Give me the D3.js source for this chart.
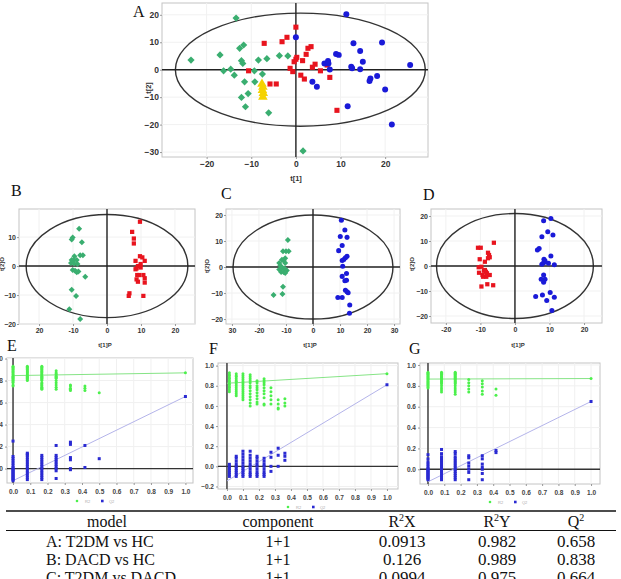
<!DOCTYPE html>
<html><head><meta charset="utf-8">
<script src="https://cdn.jsdelivr.net/npm/d3@7"></script>
<style>body{margin:0;background:#fff}svg{display:block}</style>
</head><body><script>
// ---------- DATA ----------
// Panel A scores (t[1], t[2])
const A_HC = [[-13.4,18.8],[-23.5,3.5],[-17.0,5.4],[-16.2,-0.4],[-14.6,0.2],[-13.8,-2.0],[-12.6,7.8],[-11.7,9.0],[-12.2,3.3],[-11.9,2.3],[-11.5,-4.4],[-10.7,-8.7],[-12.2,-10.1],[-11.3,-13.5],[-9.3,-0.4],[-9.2,-4.4],[-8.4,3.5],[-7.5,-1.6],[-6.5,4.0],[-6.1,-15.7],[-3.7,5.1],[-1.8,5.0],[1.6,-29.6]];
const A_DACD = [[0,15.5],[-2.0,11.8],[-3.1,10.2],[-7.1,9.6],[-10.6,-0.4],[-5.8,-5.2],[-4.4,-5.2],[-1.3,0.5],[-0.7,-0.7],[-0.4,2.9],[0,3.8],[0.2,4.5],[1.5,3.3],[1.1,-2.0],[1.9,-3.4],[2.3,5.6],[2.7,7.8],[3.4,8.4],[3.7,0.9],[4.3,2.0],[5.5,-0.4],[7.0,1.7],[7.6,-2.8],[9.2,-14.8]];
const A_T2DM = [[0,11.8],[3.7,-4.4],[4.7,-6.2],[6.4,2.3],[7.2,3.2],[7.3,2.3],[7.6,0.1],[9.0,5.7],[9.6,5.4],[11.3,20.2],[11.6,-13.3],[12.4,1.1],[12.6,0.5],[12.9,9.6],[14.4,6.8],[14.4,0.2],[15.0,2.9],[16.7,-3.2],[16.5,-4.1],[18.2,-2.3],[19.3,9.9],[20.0,-7.2],[21.5,-20.0],[25.6,1.7]];
const A_QC = [[-7.6,-5.2],[-7.4,-6.3],[-7.5,-7.5],[-7.3,-8.6],[-7.4,-9.9]];
// Panel B scores (t[1]P, t[2]O)
const B_HC = [[-8.2,12.9],[-10.1,9.9],[-10.4,9.2],[-7.4,8.2],[-9.6,3.4],[-7.9,3.7],[-7.1,3.7],[-10.4,2.1],[-9.7,2.1],[-8.9,2.1],[-10.6,1.1],[-9.7,0.9],[-8.7,0.7],[-10.1,-1.4],[-9.4,-1.6],[-8.9,-2.1],[-8.4,-1.9],[-6.4,-3.7],[-10.4,-8.2],[-9.1,-10.3],[-11.1,-14.9],[-7.9,-18.3]];
const B_DACD = [[9.7,15.3],[7.4,11.8],[7.9,9.5],[7.9,7.8],[9.7,3.4],[10.4,3.0],[8.4,1.8],[11.1,1.8],[9.9,0.7],[9.1,0],[8.7,-0.8],[8.4,-1.1],[9.9,-0.5],[8.9,-3.1],[9.4,-3.1],[10.7,-3.1],[11.1,-4.2],[8.7,-4.6],[9.1,-5.4],[11.1,-5.7],[6.6,-9.4],[6.4,-10.3],[10.7,-10.3]];
// Panel C scores
const C_HC = [[-9.3,10.4],[-11.1,6.1],[-10.0,6.1],[-9.0,6.1],[-10.3,3.4],[-10.9,2.5],[-11.5,2.8],[-10.3,1.5],[-12.5,1.5],[-12.1,0.6],[-11.3,-0.3],[-10.5,-0.6],[-12.5,-1.0],[-9.7,-1.3],[-11.8,-1.9],[-10.9,-1.9],[-10.3,-2.3],[-11.1,-7.6],[-14.6,-10.8],[-11.3,-10.4]];
const C_T2DM = [[10.5,18.0],[11.8,14.2],[10.1,11.7],[12.6,11.4],[10.8,8.3],[9.5,6.3],[12.6,4.1],[12.0,3.6],[11.4,2.9],[10.8,2.5],[11.0,0.3],[12.4,-2.5],[10.8,-3.6],[12.4,-5.1],[11.8,-5.3],[12.0,-8.9],[12.6,-9.5],[13.0,-9.9],[9.2,-11.7],[10.8,-11.7],[13.6,-14.6],[13.5,-17.8]];
// Panel D scores
const D_DACD = [[-10.7,7.3],[-9.9,7.3],[-6.1,9.3],[-7.8,5.3],[-7.5,4.4],[-7.3,3.5],[-7.8,3.1],[-10.2,2.7],[-8.7,1.7],[-10.5,-0.5],[-9.7,-0.3],[-9.0,-1.9],[-8.4,-2.3],[-8.1,-2.9],[-9.4,-3.6],[-7.3,-3.6],[-9.2,-4.3],[-8.3,-4.3],[-8.7,-1.6],[-9.7,-8.2],[-8.0,-7.3],[-6.3,-7.7],[-10.4,-2.7]];
const D_T2DM = [[8.3,18.1],[10.4,19.0],[9.5,13.7],[11.0,12.4],[7.8,11.7],[6.5,6.4],[7.0,7.0],[10.4,4.0],[8.4,2.7],[8.7,2.1],[8.3,1.3],[7.8,0.7],[9.7,1.1],[11.4,0.5],[8.3,-3.6],[8.7,-5.3],[7.6,-5.3],[8.3,-6.5],[6.0,-12.2],[7.96,-11.6],[10.2,-10.6],[11.4,-12.5],[9.2,-13.8],[10.7,-17.8]];
// Hotelling ellipses [centre x, radius x, radius y]
const A_ell = [1.0, 28.0, 20.6], B_ell = [0, 23.8, 17.8], C_ell = [0, 29.6, 20.0], D_ell = [0, 22.7, 21.0];
// tick labels
const A_xticks = [-20,-10,0,10,20], A_yticks = [-30,-20,-10,0,10,20];
const B_xticks = [-20,-10,0,10,20], B_xlabels = ["20","-10","0","10","20"], B_yticks = [-20,-10,0,10];
const C_xticks = [-30,-20,-10,0,10,20,30], C_xlabels = ["30","-20","-10","0","10","20","30"], C_yticks = [-20,-10,0,10,20];
const D_xticks = [-20,-10,0,10,20], D_xlabels = ["-20","-10","0","10","20"], D_yticks = [-20,-10,0,10,20];

// Permutation tests (x = correlation, columns of R2 and Q2)
const E_x = [0, 0.083, 0.167, 0.25, 0.333, 0.417, 0.5, 1.0];
const E_R2 = [
 [0.93,0.92,0.91,0.9,0.89,0.88,0.87,0.86,0.85,0.84,0.83,0.82,0.81,0.8,0.79,0.78,0.76,0.75],
 [0.93,0.92,0.91,0.9,0.89,0.88,0.87,0.86,0.85,0.84,0.83,0.82,0.81,0.8],
 [0.93,0.92,0.91,0.9,0.89,0.88,0.87,0.86,0.85,0.84,0.83,0.82,0.81,0.8,0.78,0.77,0.76,0.75,0.74,0.73,0.72],
 [0.89,0.87,0.86,0.85,0.84,0.83,0.82,0.8,0.78,0.76,0.74,0.72],
 [0.76,0.75,0.73,0.72,0.71],
 [0.75,0.73,0.71],
 [0.69],
 [0.87]];
const E_Q2 = [
 [0.25,0.11,0.09,0.07,0.05,0.03,0.01,0,-0.01,-0.02,-0.03,-0.04,-0.05,-0.06,-0.07,-0.08,-0.09,-0.1,-0.11],
 [0.14,0.13,0.12,0.1,0.08,0.06,0.04,0.02,0,-0.02,-0.04,-0.06,-0.08,-0.1],
 [0.12,0.1,0.08,0.06,0.04,0.02,0,-0.02,-0.04,-0.06,-0.08,-0.1],
 [0.21,0.12,0.1,0.08,0.06,0.04,0.02,0,-0.02,-0.09],
 [0.24,0.22,0.1,0.08,0,-0.01],
 [0.21,0.01],
 [0.09],
 [0.655]];
const E_R2line = [0.845, 0.87], E_Q2line = [-0.11, 0.655];

const F_x = [0.015, 0.058, 0.1, 0.145, 0.188, 0.232, 0.275, 0.32, 0.362, 1.0];
const F_R2 = [
 [0.93,0.91,0.9,0.88,0.87,0.85,0.84,0.82,0.81,0.79,0.78,0.76,0.74],
 [0.92,0.9,0.89,0.87,0.85,0.84,0.82,0.8,0.78,0.76,0.74,0.72,0.7],
 [0.92,0.9,0.88,0.86,0.84,0.82,0.8,0.78,0.76,0.74,0.72,0.7,0.68,0.66],
 [0.91,0.89,0.87,0.85,0.83,0.8,0.78,0.75,0.72,0.69,0.66,0.63,0.6],
 [0.85,0.83,0.8,0.78,0.76,0.73,0.7,0.67,0.64,0.62],
 [0.87,0.85,0.83,0.81,0.78,0.75,0.72,0.68,0.62,0.61],
 [0.78,0.74,0.7,0.66,0.62],
 [0.66,0.62,0.58,0.57],
 [0.67,0.63,0.6],
 [0.92]];
const F_Q2 = [
 [0.02,0,-0.02,-0.04,-0.06,-0.08,-0.1],
 [0.1,0.08,0.05,0.02,0,-0.02,-0.04,-0.06,-0.08,-0.1],
 [0.15,0.12,0.09,0.06,0.03,0,-0.02,-0.04,-0.06,-0.08,-0.1],
 [0.15,0.11,0.08,0.05,0.02,0,-0.03,-0.06,-0.08,-0.1],
 [0.1,0.08,0.05,0.02,0,-0.03,-0.06,-0.08,-0.1],
 [0.08,0.05,0.02,0,-0.03,-0.06,-0.08,-0.1],
 [0.14,0.09,0,-0.05],
 [0.18,0.11,0],
 [0.13,0.1,0.06],
 [0.81]];
const F_R2line = [0.825, 0.92], F_Q2line = [-0.145, 0.81];

const G_x = [0, 0.083, 0.167, 0.25, 0.333, 0.417, 1.0];
const G_R2 = [
 [0.93,0.92,0.91,0.9,0.89,0.88,0.87,0.86,0.85,0.84,0.83,0.82,0.81,0.8,0.79,0.78],
 [0.93,0.92,0.91,0.9,0.89,0.88,0.87,0.86,0.85,0.84,0.83,0.82,0.8,0.78,0.76,0.74],
 [0.93,0.92,0.91,0.9,0.89,0.88,0.87,0.86,0.85,0.84,0.83,0.82,0.8,0.78,0.76,0.74,0.72],
 [0.86,0.83,0.8,0.77,0.74],
 [0.85,0.82,0.79,0.75,0.72],
 [0.77,0.71],
 [0.87]];
const G_Q2 = [
 [0.14,0.1,0.07,0.05,0.03,0.01,0,-0.01,-0.02,-0.03,-0.04,-0.05,-0.06,-0.07,-0.08,-0.09,-0.1],
 [0.19,0.15,0.12,0.1,0.08,0.06,0.04,0.02,0,-0.02,-0.04,-0.06,-0.08,-0.1],
 [0.17,0.15,0.12,0.1,0.08,0.06,0.04,0.02,0,-0.02,-0.04,-0.06,-0.08,-0.1],
 [0.13,0.11,0.06,0.03,0,-0.03,-0.1],
 [0.13,0.1,0.05,0.02,0,-0.04,-0.1],
 [0.18,0.16],
 [0.65]];
const G_R2line = [0.865, 0.87], G_Q2line = [-0.12, 0.65];
const perm_xticks = [0,0.1,0.2,0.3,0.4,0.5,0.6,0.7,0.8,0.9,1.0];
const perm_yticks = [-0.2,0,0.2,0.4,0.6,0.8,1.0];

// Table
const tbl_header = ["model","component","R2X","R2Y","Q2"];
const tbl_model = ["A: T2DM vs HC","B: DACD vs HC","C: T2DM vs DACD"];
const tbl_component = ["1+1","1+1","1+1"];
const tbl_R2X = ["0.0913","0.126","0.0994"];
const tbl_R2Y = ["0.982","0.989","0.975"];
const tbl_Q2 = ["0.658","0.838","0.664"];

// ---------- DRAW ----------
const W = 621, H = 579;
const svg = d3.select("body").append("svg").attr("width", W).attr("height", H)
  .style("font-family", "'Liberation Sans', Arial, sans-serif");

const COL = {green:"#3aae70", red:"#e8141e", blue:"#1a1ad8", yellow:"#f5d200",
             pgreen:"#4cf04c", pblue:"#2a2ad2", lgreen:"#86e486", lblue:"#b4b4ea"};

function panelLetter(t, x, y) {
  svg.append("text").attr("x", x).attr("y", y).text(t)
    .style("font-family", "'Liberation Serif','Times New Roman',serif")
    .style("font-size", "16px").attr("fill", "#111");
}

function scorePlot(c) {
  const x = d3.scaleLinear().domain(c.xd).range([c.x0, c.x1]);
  const y = d3.scaleLinear().domain(c.yd).range([c.y1, c.y0]);
  const g = svg.append("g");
  g.append("rect").attr("x", c.x0).attr("y", c.y0).attr("width", c.x1 - c.x0).attr("height", c.y1 - c.y0)
    .attr("fill", "#fff").attr("stroke", "#c4c4c4").attr("stroke-width", 1);
  c.xt.forEach(v => g.append("line").attr("x1", x(v)).attr("x2", x(v)).attr("y1", c.y0).attr("y2", c.y1).attr("stroke", "#f1f1f1"));
  c.yt.forEach(v => g.append("line").attr("y1", y(v)).attr("y2", y(v)).attr("x1", c.x0).attr("x2", c.x1).attr("stroke", "#f1f1f1"));
  const ax = g.append("g").attr("transform", `translate(0,${c.y1})`)
    .call(d3.axisBottom(x).tickValues(c.xt).tickSize(2).tickPadding(2)
      .tickFormat((d, i) => c.xl ? c.xl[i] : d3.format("d")(d)));
  const ay = g.append("g").attr("transform", `translate(${c.x0},0)`)
    .call(d3.axisLeft(y).tickValues(c.yt).tickSize(2).tickPadding(1).tickFormat(d3.format("d")));
  [ax, ay].forEach(a => {
    a.select(".domain").remove();
    a.selectAll("line").attr("stroke", "#999");
    a.selectAll("text").style("font-size", c.fs + "px").style("font-weight", "bold").attr("fill", "#333")
      .style("font-family", "'Liberation Sans', Arial, sans-serif");
  });
  g.append("ellipse").attr("cx", x(c.ell[0])).attr("cy", y(0))
    .attr("rx", x(c.ell[0] + c.ell[1]) - x(c.ell[0])).attr("ry", y(0) - y(c.ell[2]))
    .attr("fill", "none").attr("stroke", "#333").attr("stroke-width", 1.4);
  g.append("line").attr("x1", x(0)).attr("x2", x(0)).attr("y1", c.y0).attr("y2", c.y1).attr("stroke", "#222").attr("stroke-width", 1.4);
  g.append("line").attr("x1", c.x0).attr("x2", c.x1).attr("y1", y(0)).attr("y2", y(0)).attr("stroke", "#222").attr("stroke-width", 1.4);
  c.groups.forEach(gr => {
    const sym = d3.symbol().type(gr.shape === "circle" ? d3.symbolCircle : gr.shape === "tri" ? d3.symbolTriangle : d3.symbolSquare).size(gr.size);
    g.selectAll(null).data(gr.data).join("path")
      .attr("d", sym)
      .attr("transform", d => `translate(${x(d[0])},${y(d[1])})` + (gr.shape === "diamond" ? " rotate(45)" : ""))
      .attr("fill", gr.color);
  });
  g.append("text").attr("x", c.xtitle[0]).attr("y", c.xtitle[1]).attr("text-anchor", "middle")
    .style("font-size", c.fs - 1 + "px").style("font-weight", "bold").attr("fill", "#333").text(c.xlab);
  g.append("text").attr("transform", `translate(${c.ytitle[0]},${c.ytitle[1]}) rotate(-90)`).attr("text-anchor", "middle")
    .style("font-size", c.fs - 1 + "px").style("font-weight", "bold").attr("fill", "#333").text(c.ylab);
}

scorePlot({x0:162, x1:428, y0:3, y1:157, xd:[-30,29.6], yd:[-31.8,24.3], xt:A_xticks, yt:A_yticks, ell:A_ell, fs:8.5,
  xlab:"t[1]", ylab:"t[2]", xtitle:[296,181], ytitle:[151,88],
  groups:[{data:A_HC, shape:"diamond", size:26, color:COL.green},
          {data:A_DACD, shape:"square", size:26, color:COL.red},
          {data:A_T2DM, shape:"circle", size:28, color:COL.blue},
          {data:A_QC, shape:"tri", size:40, color:COL.yellow}]});
scorePlot({x0:19, x1:195, y0:209, y1:324, xd:[-25.9,25.9], yd:[-20,19.7], xt:B_xticks, xl:B_xlabels, yt:B_yticks, ell:B_ell, fs:7,
  xlab:"t[1]P", ylab:"t[2]O", xtitle:[105,347], ytitle:[4,264],
  groups:[{data:B_HC, shape:"diamond", size:18, color:COL.green},
          {data:B_DACD, shape:"square", size:18, color:COL.red}]});
scorePlot({x0:226, x1:400, y0:209, y1:324, xd:[-32.2,32.2], yd:[-21.9,22.3], xt:C_xticks, xl:C_xlabels, yt:C_yticks, ell:C_ell, fs:7,
  xlab:"t[1]P", ylab:"t[2]O", xtitle:[310,347], ytitle:[209,266],
  groups:[{data:C_HC, shape:"diamond", size:18, color:COL.green},
          {data:C_T2DM, shape:"circle", size:20, color:COL.blue}]});
scorePlot({x0:431, x1:602, y0:209, y1:323, xd:[-24.3,25.2], yd:[-22.8,22.8], xt:D_xticks, xl:D_xlabels, yt:D_yticks, ell:D_ell, fs:7,
  xlab:"t[1]P", ylab:"t[2]O", xtitle:[518,347], ytitle:[414,264],
  groups:[{data:D_DACD, shape:"square", size:18, color:COL.red},
          {data:D_T2DM, shape:"circle", size:20, color:COL.blue}]});

function permPlot(c) {
  const x = d3.scaleLinear().domain(c.xd).range([c.x0, c.x1]);
  const y = d3.scaleLinear().domain(c.yd).range([c.y1, c.y0]);
  const g = svg.append("g");
  g.append("rect").attr("x", c.x0).attr("y", c.y0).attr("width", c.x1 - c.x0).attr("height", c.y1 - c.y0)
    .attr("fill", "#fff").attr("stroke", "#c4c4c4");
  const yt = perm_yticks.filter(v => v >= c.yd[0] - 1e-9 && v <= c.yd[1] + 0.03);
  perm_xticks.forEach(v => g.append("line").attr("x1", x(v)).attr("x2", x(v)).attr("y1", c.y0).attr("y2", c.y1).attr("stroke", "#f0f0f0"));
  yt.forEach(v => g.append("line").attr("y1", y(v)).attr("y2", y(v)).attr("x1", c.x0).attr("x2", c.x1).attr("stroke", "#f0f0f0"));
  const ax = g.append("g").attr("transform", `translate(0,${c.y1})`)
    .call(d3.axisBottom(x).tickValues(perm_xticks).tickSize(2).tickPadding(4).tickFormat(d3.format(".1f")));
  const ay = g.append("g").attr("transform", `translate(${c.x0},0)`)
    .call(d3.axisLeft(y).tickValues(yt).tickSize(2).tickPadding(2).tickFormat(d3.format(".1f")));
  [ax, ay].forEach(a => {
    a.select(".domain").remove();
    a.selectAll("line").attr("stroke", "#999");
    a.selectAll("text").style("font-size", "6.5px").style("font-weight", "bold").attr("fill", "#444")
      .style("font-family", "'Liberation Sans', Arial, sans-serif");
  });
  g.append("line").attr("x1", x(0)).attr("x2", x(0)).attr("y1", c.y0).attr("y2", c.y1).attr("stroke", "#333").attr("stroke-width", 1.4);
  g.append("line").attr("x1", c.x0).attr("x2", c.x1).attr("y1", y(0)).attr("y2", y(0)).attr("stroke", "#333").attr("stroke-width", 1.4);
  g.append("line").attr("x1", x(0)).attr("y1", y(c.r2line[0])).attr("x2", x(1)).attr("y2", y(c.r2line[1]))
    .attr("stroke", COL.lgreen).attr("stroke-width", 1);
  g.append("line").attr("x1", x(0)).attr("y1", y(c.q2line[0])).attr("x2", x(1)).attr("y2", y(c.q2line[1]))
    .attr("stroke", COL.lblue).attr("stroke-width", 1);
  c.r2.forEach((col, i) => col.forEach(v =>
    g.append("circle").attr("cx", x(c.xs[i])).attr("cy", y(v)).attr("r", 1.5).attr("fill", COL.pgreen)));
  c.q2.forEach((col, i) => col.forEach(v =>
    g.append("rect").attr("x", x(c.xs[i]) - 1.5).attr("y", y(v) - 1.5).attr("width", 3).attr("height", 3).attr("fill", COL.pblue)));
  const lx = c.x0 + 70, ly = c.y1 + 18;
  g.append("circle").attr("cx", lx).attr("cy", ly).attr("r", 1.3).attr("fill", COL.pgreen);
  g.append("text").attr("x", lx + 8).attr("y", ly + 1.5).style("font-size", "4px").attr("fill", "#aaa").text("R2");
  g.append("rect").attr("x", lx + 24).attr("y", ly - 1.3).attr("width", 2.6).attr("height", 2.6).attr("fill", COL.pblue);
  g.append("text").attr("x", lx + 32).attr("y", ly + 1.5).style("font-size", "4px").attr("fill", "#aaa").text("Q2");
}

permPlot({x0:7, x1:193, y0:358, y1:483, xd:[-0.035,1.044], yd:[-0.131,1.005], xs:E_x, r2:E_R2, q2:E_Q2, r2line:E_R2line, q2line:E_Q2line});
permPlot({x0:218, x1:398, y0:363, y1:489, xd:[-0.056,1.069], yd:[-0.225,1.026], xs:F_x, r2:F_R2, q2:F_Q2, r2line:F_R2line, q2line:F_Q2line});
permPlot({x0:420, x1:600, y0:363, y1:484, xd:[-0.049,1.055], yd:[-0.141,1.019], xs:G_x, r2:G_R2, q2:G_Q2, r2line:G_R2line, q2line:G_Q2line});

panelLetter("A", 133, 17);
panelLetter("B", 11, 196);
panelLetter("C", 221, 199);
panelLetter("D", 423, 200);
panelLetter("E", 7, 351);
panelLetter("F", 209, 354);
panelLetter("G", 409, 354);

// ---------- TABLE ----------
const serif = "'Liberation Serif','Times New Roman',serif";
const tcols = [107, 278, 402, 497, 576];
svg.append("line").attr("x1", 6).attr("x2", 616).attr("y1", 511).attr("y2", 511).attr("stroke", "#111").attr("stroke-width", 1.6);
svg.append("line").attr("x1", 6).attr("x2", 616).attr("y1", 530.5).attr("y2", 530.5).attr("stroke", "#111").attr("stroke-width", 1.2);
tbl_header.forEach((h, i) => {
  const t = svg.append("text").attr("x", tcols[i]).attr("y", 527).attr("text-anchor", "middle")
    .style("font-family", serif).style("font-size", "16px").attr("fill", "#111");
  if (h[0] === "R" || h[0] === "Q") {
    t.append("tspan").text(h[0]);
    t.append("tspan").text("2").attr("dy", -6).style("font-size", "10px");
    t.append("tspan").text(h.slice(2)).attr("dy", 6);
  } else t.text(h);
});
const rowY = [547, 565, 583];
tbl_model.forEach((m, r) => {
  svg.append("text").attr("x", 46).attr("y", rowY[r]).style("font-family", serif).style("font-size", "16px").attr("fill", "#111").text(m);
  svg.append("text").attr("x", tcols[1]).attr("y", rowY[r]).attr("text-anchor", "middle").style("font-family", serif).style("font-size", "16px").attr("fill", "#111").text(tbl_component[r]);
  [tbl_R2X, tbl_R2Y, tbl_Q2].forEach((arr, k) => {
    svg.append("text").attr("x", tcols[k + 2]).attr("y", rowY[r]).attr("text-anchor", "middle").style("font-family", serif).style("font-size", "17px").attr("fill", "#111").text(arr[r]);
  });
});
</script></body></html>
